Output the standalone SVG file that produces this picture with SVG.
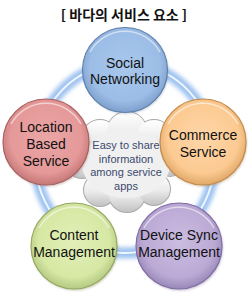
<svg xmlns="http://www.w3.org/2000/svg" width="252" height="293" viewBox="0 0 252 293">
<style>
.t{font-family:"Liberation Sans",Arial,sans-serif;font-size:14px;fill:#111;text-anchor:middle}
.c{font-family:"Liberation Sans",Arial,sans-serif;font-size:11px;fill:#3c4a6e;text-anchor:middle}
.ttl{font-family:"Noto Sans CJK KR","Liberation Sans",sans-serif;font-size:14px;font-weight:bold;fill:#111;text-anchor:middle}
.hl{fill:none;stroke:#fff;stroke-opacity:0.55;stroke-width:1.5}
</style>
<defs>
<filter id="blur" x="-20%" y="-20%" width="140%" height="140%"><feGaussianBlur stdDeviation="2.2"/></filter>
<filter id="sh" x="-20%" y="-20%" width="140%" height="140%"><feGaussianBlur stdDeviation="1.2"/></filter>
<radialGradient id="gb" cx="50%" cy="45%" r="55%"><stop offset="0" stop-color="#a9c7ec"/><stop offset="0.75" stop-color="#9bbde6"/><stop offset="1" stop-color="#7d9fcc"/></radialGradient>
<radialGradient id="gr" cx="50%" cy="45%" r="55%"><stop offset="0" stop-color="#eba5a5"/><stop offset="0.75" stop-color="#e59999"/><stop offset="1" stop-color="#c57777"/></radialGradient>
<radialGradient id="go" cx="50%" cy="45%" r="55%"><stop offset="0" stop-color="#fed6a8"/><stop offset="0.75" stop-color="#fcca92"/><stop offset="1" stop-color="#e0a868"/></radialGradient>
<radialGradient id="gg" cx="50%" cy="45%" r="55%"><stop offset="0" stop-color="#e2efb8"/><stop offset="0.75" stop-color="#d6e8a4"/><stop offset="1" stop-color="#b5c982"/></radialGradient>
<radialGradient id="gp" cx="50%" cy="45%" r="55%"><stop offset="0" stop-color="#cbbce0"/><stop offset="0.75" stop-color="#bcaad6"/><stop offset="1" stop-color="#9987b8"/></radialGradient>
<linearGradient id="cg" x1="0" y1="0" x2="0" y2="1"><stop offset="0" stop-color="#ffffff"/><stop offset="0.55" stop-color="#ebebeb"/><stop offset="1" stop-color="#c2c2c2"/></linearGradient>
</defs>
<rect width="252" height="293" fill="#fff"/>
<text class="ttl" x="124" y="20">[ 바다의 서비스 요소 ]</text>
<g id="ring">
<ellipse cx="125" cy="158" rx="90" ry="95" fill="none" stroke="#9fc3f0" stroke-width="11" filter="url(#blur)"/>
<ellipse cx="125" cy="158" rx="90" ry="95" fill="none" stroke="#eef5fe" stroke-width="2"/>
</g>
<g id="cloud">
<g fill="none" stroke="#aaaaaa" stroke-width="2">
<circle cx="100" cy="138" r="18"/><circle cx="127" cy="132" r="20"/><circle cx="154" cy="138" r="18"/>
<circle cx="82" cy="162" r="16"/><circle cx="170" cy="162" r="14"/><circle cx="100" cy="190" r="16"/>
<circle cx="127" cy="194" r="18"/><circle cx="154" cy="189" r="16"/>
</g>
<g fill="url(#cg)">
<circle cx="100" cy="138" r="18"/><circle cx="127" cy="132" r="20"/><circle cx="154" cy="138" r="18"/>
<circle cx="82" cy="162" r="16"/><circle cx="170" cy="162" r="14"/><circle cx="100" cy="190" r="16"/>
<circle cx="127" cy="194" r="18"/><circle cx="154" cy="189" r="16"/>
<ellipse cx="126" cy="164" rx="44" ry="34" fill="#f0f0f0"/>
</g>
<text class="c" x="126" y="149">Easy to share</text>
<text class="c" x="126" y="163">information</text>
<text class="c" x="126" y="176">among service</text>
<text class="c" x="126" y="190">apps</text>
</g>
<g id="social">
<circle cx="125" cy="70" r="42.5" fill="#6a86aa" opacity="0.35" filter="url(#sh)" transform="translate(1,1.5)"/>
<circle cx="125" cy="70" r="42.5" fill="url(#gb)" stroke="#5f7fa8" stroke-width="1.2"/>
<path class="hl" d="M90 52 A40 40 0 0 1 160 52"/>
<text class="t" x="125" y="68">Social</text>
<text class="t" x="125" y="84">Networking</text>
</g>
<g id="location">
<circle cx="46" cy="142" r="43" fill="#8a5a5a" opacity="0.35" filter="url(#sh)" transform="translate(1,1.5)"/>
<circle cx="46" cy="142" r="43" fill="url(#gr)" stroke="#a86060" stroke-width="1.2"/>
<path class="hl" d="M11 124 A40 40 0 0 1 81 124"/>
<text class="t" x="46" y="132">Location</text>
<text class="t" x="46" y="149">Based</text>
<text class="t" x="46" y="166">Service</text>
</g>
<g id="commerce">
<circle cx="203" cy="142" r="43" fill="#8a6a40" opacity="0.35" filter="url(#sh)" transform="translate(1,1.5)"/>
<circle cx="203" cy="142" r="43" fill="url(#go)" stroke="#c48a48" stroke-width="1.2"/>
<path class="hl" d="M168 124 A40 40 0 0 1 238 124"/>
<text class="t" x="203" y="140">Commerce</text>
<text class="t" x="203" y="157">Service</text>
</g>
<g id="content">
<circle cx="74" cy="246" r="43" fill="#6a7a40" opacity="0.35" filter="url(#sh)" transform="translate(1,1.5)"/>
<circle cx="74" cy="246" r="43" fill="url(#gg)" stroke="#94a860" stroke-width="1.2"/>
<path class="hl" d="M39 228 A40 40 0 0 1 109 228"/>
<text class="t" x="74" y="240">Content</text>
<text class="t" x="74" y="257">Management</text>
</g>
<g id="device">
<circle cx="179" cy="246" r="43" fill="#5a4a7a" opacity="0.35" filter="url(#sh)" transform="translate(1,1.5)"/>
<circle cx="179" cy="246" r="43" fill="url(#gp)" stroke="#7e6ca4" stroke-width="1.2"/>
<path class="hl" d="M144 228 A40 40 0 0 1 214 228"/>
<text class="t" x="179" y="240">Device Sync</text>
<text class="t" x="179" y="257">Management</text>
</g>
</svg>
